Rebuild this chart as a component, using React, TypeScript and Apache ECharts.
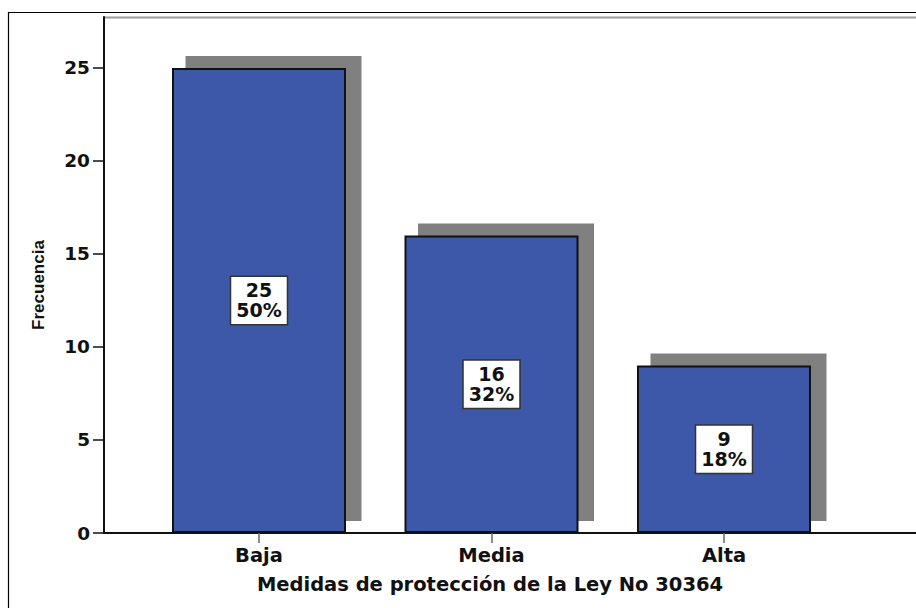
import React, { useEffect, useRef } from "react";
import * as echarts from "echarts";

const categories = ["Baja", "Media", "Alta"];
const frequencies = [25, 16, 9];
const percents = ["50%", "32%", "18%"];
const yTicks = [0, 5, 10, 15, 20, 25];

const X_MIN = 1 / 3;
const X_MAX = 3.8258;
const Y_MAX = 27.74;
const SHIFT_X = 0.0624;
const SHIFT_Y = 0.645;

export default function App() {
  const ref = useRef<HTMLDivElement>(null);
  useEffect(() => {
    if (!ref.current) return;
    const chart = echarts.init(ref.current, null, { renderer: "svg" });
    const positions = categories.map((_, i) => i + 1);
    const font = "'DejaVu Sans', Verdana, sans-serif";
    chart.setOption({
      animation: false,
      backgroundColor: "#ffffff",
      grid: { left: 104, right: 0, top: 17, bottom: 75, containLabel: false },
      xAxis: [
        {
          type: "value",
          min: X_MIN,
          max: X_MAX,
          splitLine: { show: false },
          axisLine: { show: true, onZero: false, lineStyle: { color: "#111", width: 2 } },
          axisTick: {
            show: true,
            customValues: positions,
            length: 10,
            lineStyle: { color: "#666", width: 1.5 },
          },
          axisLabel: {
            customValues: positions,
            margin: 12,
            formatter: (v: number) => categories[Math.round(v) - 1] ?? "",
            fontFamily: font,
            fontWeight: "bold",
            fontSize: 19.5,
            color: "#111",
          },
          name: "Medidas de protección de la Ley No 30364",
          nameLocation: "middle",
          nameGap: 41,
          nameTextStyle: {
            fontFamily: font,
            fontWeight: "bold",
            fontSize: 19.5,
            color: "#111",
            padding: [0, 40, 0, 0],
          },
        },
        {
          type: "value",
          min: X_MIN - SHIFT_X,
          max: X_MAX - SHIFT_X,
          show: false,
          splitLine: { show: false },
        },
      ],
      yAxis: [
        {
          type: "value",
          min: 0,
          max: Y_MAX,
          interval: 5,
          splitLine: { show: false },
          axisLine: { show: true, lineStyle: { color: "#111", width: 2 } },
          axisTick: {
            show: true,
            customValues: yTicks,
            length: 11,
            lineStyle: { color: "#111", width: 1.5 },
          },
          axisLabel: {
            customValues: yTicks,
            margin: 14,
            fontFamily: font,
            fontWeight: "bold",
            fontSize: 18.5,
            color: "#111",
          },
          name: "Frecuencia",
          nameLocation: "middle",
          nameGap: 57,
          nameTextStyle: {
            fontFamily: "'Liberation Sans', Arial, sans-serif",
            fontWeight: "bold",
            fontSize: 17,
            color: "#111",
            padding: [0, 20, 0, 0],
          },
        },
        {
          type: "value",
          min: -SHIFT_Y,
          max: Y_MAX - SHIFT_Y,
          show: false,
          splitLine: { show: false },
        },
      ],
      graphic: [
        {
          type: "rect",
          shape: { x: 8.5, y: 12.5, width: 1000, height: 1000 },
          style: { fill: "none", stroke: "#000", lineWidth: 1.2 },
          silent: true,
        },
        {
          type: "line",
          shape: { x1: 104, y1: 17.5, x2: 916, y2: 17.5 },
          style: { stroke: "#9a9a9a", lineWidth: 2 },
          silent: true,
        },
      ],
      series: [
        {
          type: "bar",
          xAxisIndex: 1,
          yAxisIndex: 1,
          barWidth: 176,
          data: frequencies.map((v, i) => [positions[i], v]),
          itemStyle: { color: "#808080" },
          silent: true,
          z: 1,
        },
        {
          type: "bar",
          xAxisIndex: 0,
          yAxisIndex: 0,
          barWidth: 174,
          data: frequencies.map((v, i) => [positions[i], v]),
          itemStyle: { color: "#3d57a9", borderColor: "#111", borderWidth: 2 },
          z: 2,
          label: {
            show: true,
            position: "inside",
            formatter: (p: any) => `${frequencies[p.dataIndex]}\n${percents[p.dataIndex]}`,
            fontFamily: font,
            fontWeight: "bold",
            fontSize: 19,
            lineHeight: 20,
            color: "#111",
            align: "center",
            backgroundColor: "#ffffff",
            borderColor: "#333",
            borderWidth: 1.5,
            padding: [4, 5, 3, 5],
          },
        },
      ],
    });
    return () => chart.dispose();
  }, []);
  return (
    <div
      ref={ref}
      style={{ position: "absolute", left: 0, top: 0, width: 916, height: 608 }}
    />
  );
}
